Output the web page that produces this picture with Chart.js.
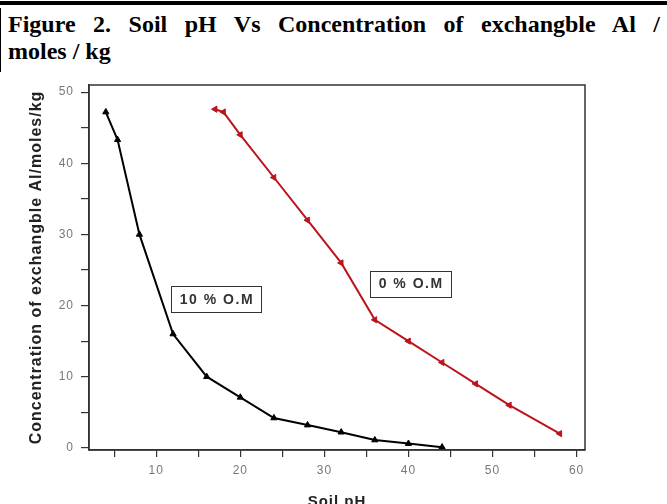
<!DOCTYPE html>
<html>
<head>
<meta charset="utf-8">
<script src="https://cdn.jsdelivr.net/npm/chart.js@4"></script>
<style>
  body { margin: 0; background: #fff; }
  #wrap { position: relative; width: 667px; height: 504px; overflow: hidden; }
  #topbar { position: absolute; left: 0; top: 1px; width: 667px; height: 4px; background: #000; }
  #leftbar { position: absolute; left: 0; top: 8px; width: 1px; height: 64px; background: #000; }
  #title { position: absolute; left: 8px; top: 11px; width: 652px; font: bold 24px "Liberation Serif", "Times New Roman", serif; line-height: 27px; color: #000; }
  #title .l1 { text-align: justify; text-align-last: justify; white-space: nowrap; }
  canvas { position: absolute; left: 0; top: 0; }
</style>
</head>
<body>
<div id="wrap">
  <div id="topbar"></div>
  <div id="leftbar"></div>
  <div id="title">
    <div class="l1">Figure 2. Soil pH Vs Concentration of exchangble Al /</div>
    <div>moles / kg</div>
  </div>
  <canvas id="myChart" width="667" height="504"></canvas>
</div>
<script>
// 10 % organic matter
var ph10 = [4, 5.4, 8, 12, 16, 20, 24, 28, 32, 36, 40, 44];
var al10 = [47.2, 43.3, 30, 16, 10, 7.1, 4.2, 3.2, 2.2, 1.1, 0.6, 0.1];
// 0 % organic matter
var ph0 = [17, 18, 20, 24, 28, 32, 36, 40, 44, 48, 52, 58];
var al0 = [47.6, 47.2, 44, 38, 32, 26, 18, 15, 12, 9, 6, 2];

var seriesNames = ['10 % O.M', '0 % O.M'];

function toPoints(xs, ys) {
  return xs.map(function (v, i) { return {x: v, y: ys[i]}; });
}

var spacingPlugin = {
  id: 'spacing',
  beforeDraw: function (chart) { chart.ctx.letterSpacing = '1px'; }
};

// frame round the plot area + the two boxed series labels
var framePlugin = {
  id: 'frame',
  afterDatasetsDraw: function (chart) {
    var ctx = chart.ctx, a = chart.chartArea;
    var xs = chart.scales.x, ys = chart.scales.y;
    ctx.save();
    ctx.strokeStyle = '#333';
    ctx.lineWidth = 1.5;
    ctx.strokeRect(a.left, a.top, a.right - a.left, a.bottom - a.top);

    var boxes = [
      {text: seriesNames[0], x: 17.1, y: 20.9},
      {text: seriesNames[1], x: 40.2, y: 23.1}
    ];
    ctx.font = 'bold 14px "Liberation Sans", Arial, sans-serif';
    ctx.letterSpacing = '1.5px';
    ctx.textAlign = 'center';
    ctx.textBaseline = 'middle';
    boxes.forEach(function (b) {
      var cx = xs.getPixelForValue(b.x), cy = ys.getPixelForValue(b.y);
      var w = ctx.measureText(b.text).width + 16, h = 26;
      ctx.fillStyle = '#fff';
      ctx.fillRect(cx - w / 2, cy - h / 2, w, h);
      ctx.strokeStyle = '#333';
      ctx.lineWidth = 1;
      ctx.strokeRect(Math.round(cx - w / 2) + 0.5, Math.round(cy - h / 2) + 0.5, Math.round(w), h);
      ctx.fillStyle = '#333';
      ctx.fillText(b.text, cx + 1, cy + 1);
    });
    ctx.restore();
  }
};

var tickFont = {family: '"Liberation Sans", Arial, sans-serif', size: 12};
var titleFont = {family: '"Liberation Sans", Arial, sans-serif', size: 16, weight: 'bold'};

var ctx = document.getElementById('myChart').getContext('2d');
var myChart = new Chart(ctx, {
  type: 'scatter',
  data: {
    datasets: [{
      label: seriesNames[0],
      data: toPoints(ph10, al10),
      showLine: true,
      borderColor: '#000',
      backgroundColor: '#000',
      borderWidth: 2,
      pointStyle: 'triangle',
      pointRadius: 3.6,
      pointBorderWidth: 1
    }, {
      label: seriesNames[1],
      data: toPoints(ph0, al0),
      showLine: true,
      borderColor: '#bb141c',
      backgroundColor: '#bb141c',
      borderWidth: 2,
      pointStyle: 'triangle',
      pointRotation: 270,
      pointRadius: 3.6,
      pointBorderWidth: 1
    }]
  },
  options: {
    responsive: false,
    animation: false,
    layout: {padding: {left: 0, top: 85, right: 82, bottom: 0}},
    plugins: {legend: {display: false}, tooltip: {enabled: false}},
    scales: {
      x: {
        type: 'linear',
        min: 2,
        max: 61,
        afterFit: function (s) { s.height = 54; },
        border: {display: true, color: '#333', width: 1.5},
        grid: {drawOnChartArea: false, drawTicks: true, tickLength: 7, color: '#333', lineWidth: 1.2},
        ticks: {
          stepSize: 5,
          includeBounds: false,
          autoSkip: false,
          maxRotation: 0,
          padding: 6,
          color: '#777',
          font: tickFont,
          callback: function (v) { return v % 10 === 0 ? String(v) : ''; }
        },
        title: {display: true, text: 'Soil pH', color: '#222', font: {family: titleFont.family, size: 15, weight: 'bold'}, padding: {top: 0, bottom: -7}}
      },
      y: {
        type: 'linear',
        min: -0.3,
        max: 51,
        afterFit: function (s) { s.width = 89; },
        border: {display: true, color: '#333', width: 1.5},
        grid: {drawOnChartArea: false, drawTicks: true, tickLength: 8, color: '#333', lineWidth: 1.2},
        ticks: {
          stepSize: 5,
          includeBounds: false,
          autoSkip: false,
          padding: 7,
          color: '#777',
          font: tickFont,
          callback: function (v) { return v % 10 === 0 ? String(v) : ''; }
        },
        title: {display: true, text: 'Concentration of exchangble Al/moles/kg', color: '#222', font: titleFont, padding: {top: 27, bottom: 0}}
      }
    }
  },
  plugins: [spacingPlugin, framePlugin]
});
</script>
</body>
</html>
